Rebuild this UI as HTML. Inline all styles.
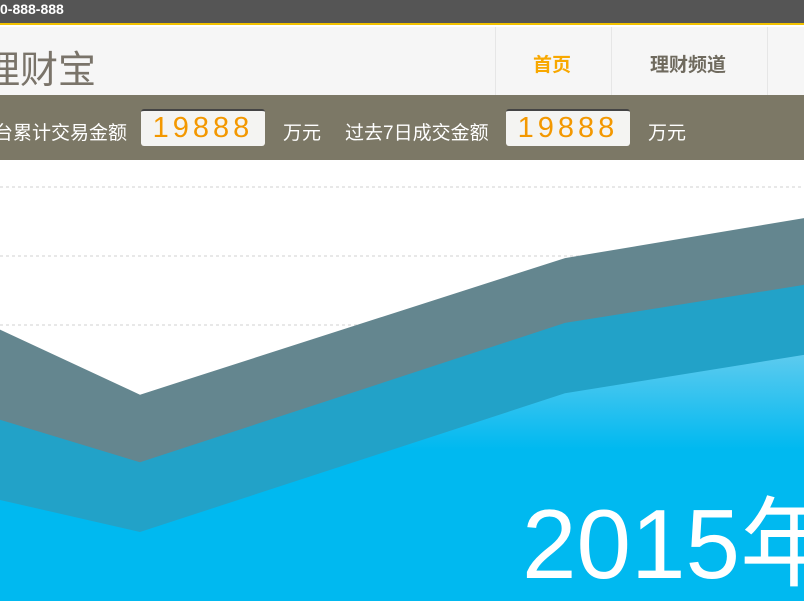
<!DOCTYPE html>
<html><head><meta charset="utf-8">
<style>
*{margin:0;padding:0;box-sizing:border-box}
body{width:804px;height:601px;overflow:hidden;position:relative;background:#fff;font-family:"Liberation Sans","Noto Sans CJK SC",sans-serif}
#topbar{position:absolute;left:0;top:0;width:804px;height:25px;background:#555;border-bottom:2px solid #f2c200;color:#fff;font-size:14px;font-weight:bold;line-height:18px;padding-left:0}
#nav{position:absolute;left:0;top:27px;width:804px;height:68px;background:#f6f6f6}
#logo{position:absolute;left:-18px;top:12px;font-size:38px;color:#7a746a;font-weight:normal;letter-spacing:0px}
.sep{position:absolute;top:0;width:1px;height:68px;background:#e6e6e6}
.navitem{position:absolute;top:23px;font-size:19px;font-weight:bold}
#ticker{position:absolute;left:0;top:95px;width:804px;height:65px;background:#7c7866;color:#fff;font-size:19px}
.t{position:absolute;top:23px}
.box{position:absolute;top:14px;width:124px;height:37px;background:#f4f4f2;border-radius:3px;border-top:2px solid #444;color:#f39800;font-size:29px;letter-spacing:4px;text-align:center;line-height:34px;font-family:"Liberation Sans",sans-serif}
#chart{position:absolute;left:0;top:0}
</style></head><body>
<div id="topbar"><span>0-888-888</span></div>
<div id="nav">
<div id="logo">理财宝</div>
<div class="sep" style="left:495px"></div>
<div class="sep" style="left:611px"></div>
<div class="sep" style="left:767px"></div>
<div class="navitem" style="left:533px;color:#f8a800">首页</div>
<div class="navitem" style="left:650px;color:#6f6a5e">理财频道</div>
</div>
<div id="ticker">
<div class="t" style="left:-6px">台累计交易金额</div>
<div class="box" style="left:141px">19888</div>
<div class="t" style="left:283px">万元</div>
<div class="t" style="left:345px">过去7日成交金额</div>
<div class="box" style="left:506px">19888</div>
<div class="t" style="left:648px">万元</div>
</div>
<svg id="chart" width="804" height="601">
<defs>
<linearGradient id="gLight" gradientUnits="userSpaceOnUse"></linearGradient>
</defs>
</svg>
<script>
const categories=['Q1','Q2','Q3','Q4'];
const seriesTop=[585,299,497,600];
const seriesMid=[388,201,403,501];
const seriesBottom=[241,100,301,400];
const gridValues=[400,500,600];

const svg=document.getElementById('chart');
const NS='http://www.w3.org/2000/svg';
function xScale(i){return 140+(i-1)*425;}
function yScale(v){return 601-v*0.69;}
const grad=svg.querySelector('#gLight');
grad.setAttribute('x1','0');grad.setAttribute('x2','0');
grad.setAttribute('y1',String(yScale(400)));grad.setAttribute('y2',String(yScale(220)));
[['0','#7ad0ee'],['1','#00b9f0']].forEach(s=>{const st=document.createElementNS(NS,'stop');st.setAttribute('offset',s[0]);st.setAttribute('stop-color',s[1]);grad.appendChild(st);});
gridValues.forEach(v=>{
 const l=document.createElementNS(NS,'line');
 
 
 l.setAttribute('x1','0');l.setAttribute('x2','804');
 l.setAttribute('y1',yScale(v));l.setAttribute('y2',yScale(v));
 l.setAttribute('stroke','#e0e0e0');l.setAttribute('stroke-width','1.5');l.setAttribute('stroke-dasharray','3,3');
 svg.appendChild(l);
});
function area(vals,fill,name){
 let d='M'+xScale(0)+',601';
 vals.forEach((v,i)=>{d+=' L'+xScale(i)+','+yScale(v);});
 d+=' L'+xScale(vals.length-1)+',601 Z';
 const p=document.createElementNS(NS,'path');
 
 
 p.setAttribute('d',d);p.setAttribute('fill',fill);
 svg.appendChild(p);
}
area(seriesTop,'#64868f','area-top-series');
area(seriesMid,'#22a2c8','area-middle-series');
area(seriesBottom,'url(#gLight)','area-bottom-series');
const t=document.createElementNS(NS,'text');


t.setAttribute('x','522');t.setAttribute('y','578');
t.setAttribute('fill','#fff');t.setAttribute('font-size','98');
t.setAttribute('font-family','"Liberation Sans","Noto Sans CJK SC",sans-serif');
t.textContent='2015年';
svg.appendChild(t);
</script>
</body></html>
